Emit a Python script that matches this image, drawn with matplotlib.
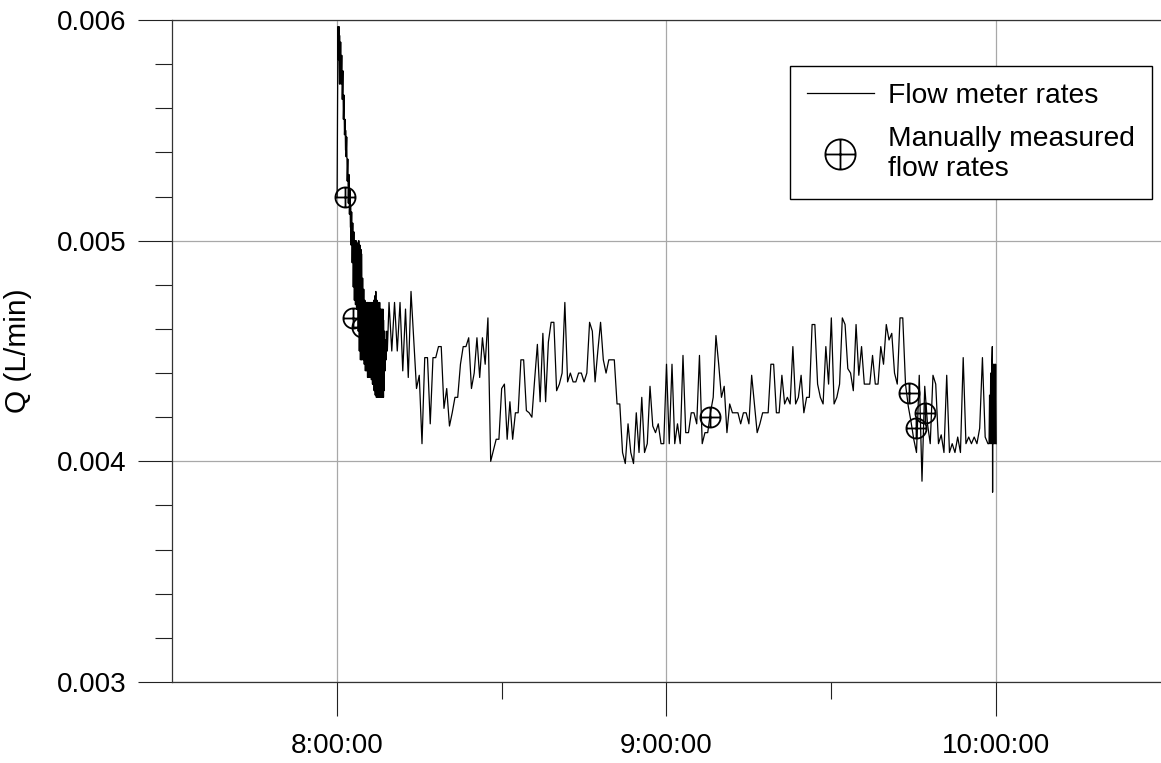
import numpy as np
import matplotlib
matplotlib.use("Agg")
import matplotlib.pyplot as plt
from matplotlib.path import Path
from matplotlib.ticker import FixedLocator, MultipleLocator, FormatStrFormatter, FuncFormatter

plt.rcParams['font.family'] = ['Liberation Sans', 'DejaVu Sans']

# flow meter, first point (minutes after 8:00, L/min x 1e-3)
start_t = 0.05
start_q = 5.20

# fast sampled start: upper and lower values of the oscillation
dense_t = [0.2, 0.4, 0.5, 0.7, 0.9, 1.1, 1.3, 1.5, 1.6, 1.8,
           2.0, 2.2, 2.4, 2.5, 2.7, 2.9, 3.1, 3.3, 3.5, 3.6,
           3.8, 4.0, 4.2, 4.4, 4.5, 4.7, 4.9, 5.1, 5.3, 5.5,
           5.6, 5.8, 6.0, 6.2, 6.4, 6.5, 6.7, 6.9, 7.1, 7.3,
           7.5, 7.6, 7.8, 8.0, 8.2, 8.4, 8.5, 8.7, 8.9, 9.1]
dense_hi = [5.97, 5.97, 5.93, 5.90, 5.84, 5.77, 5.66, 5.55, 5.50, 5.47,
            5.37, 5.30, 5.23, 5.16, 5.13, 5.08, 5.04, 5.00, 5.00, 4.99,
            4.99, 5.00, 4.98, 4.96, 4.94, 4.83, 4.78, 4.73, 4.72, 4.72,
            4.72, 4.72, 4.72, 4.72, 4.72, 4.72, 4.73, 4.75, 4.77, 4.73,
            4.72, 4.72, 4.72, 4.69, 4.69, 4.69, 4.64, 4.59, 4.55, 4.59]
dense_lo = [5.82, 5.71, 5.71, 5.71, 5.64, 5.55, 5.48, 5.41, 5.38, 5.27,
            5.17, 5.12, 5.06, 4.98, 4.90, 4.79, 4.73, 4.71, 4.69, 4.69,
            4.59, 4.50, 4.46, 4.46, 4.46, 4.46, 4.44, 4.41, 4.41, 4.38,
            4.38, 4.38, 4.38, 4.37, 4.35, 4.35, 4.32, 4.30, 4.29, 4.29,
            4.29, 4.29, 4.29, 4.29, 4.29, 4.29, 4.32, 4.41, 4.46, 4.50]

# 30 s readings from 8:09:30 on
meter_start = 9.5
meter_step = 0.5
meter_q = [4.72, 4.50, 4.72, 4.50, 4.72, 4.41, 4.69, 4.38, 4.77, 4.55,
           4.33, 4.39, 4.08, 4.47, 4.47, 4.17, 4.47, 4.47, 4.52, 4.52,
           4.24, 4.33, 4.16, 4.22, 4.29, 4.29, 4.44, 4.52, 4.52, 4.56,
           4.33, 4.40, 4.56, 4.38, 4.56, 4.44, 4.65, 4.00, 4.05, 4.10,
           4.10, 4.33, 4.35, 4.10, 4.27, 4.10, 4.22, 4.22, 4.46, 4.46,
           4.23, 4.22, 4.20, 4.37, 4.53, 4.27, 4.58, 4.27, 4.54, 4.63,
           4.63, 4.32, 4.35, 4.40, 4.72, 4.36, 4.40, 4.36, 4.36, 4.40,
           4.40, 4.36, 4.40, 4.63, 4.59, 4.36, 4.50, 4.63, 4.46, 4.40,
           4.46, 4.46, 4.46, 4.26, 4.26, 4.04, 3.99, 4.17, 4.04, 3.99,
           4.22, 4.04, 4.29, 4.04, 4.08, 4.34, 4.16, 4.13, 4.17, 4.08,
           4.08, 4.44, 4.08, 4.44, 4.08, 4.17, 4.08, 4.48, 4.13, 4.13,
           4.22, 4.22, 4.17, 4.48, 4.08, 4.13, 4.13, 4.22, 4.29, 4.57,
           4.44, 4.29, 4.34, 4.13, 4.26, 4.22, 4.22, 4.22, 4.17, 4.22,
           4.22, 4.17, 4.39, 4.26, 4.13, 4.17, 4.22, 4.22, 4.22, 4.44,
           4.44, 4.22, 4.22, 4.39, 4.26, 4.29, 4.26, 4.52, 4.26, 4.29,
           4.39, 4.22, 4.29, 4.29, 4.62, 4.62, 4.35, 4.29, 4.26, 4.52,
           4.35, 4.65, 4.26, 4.29, 4.35, 4.65, 4.62, 4.42, 4.40, 4.32,
           4.62, 4.39, 4.52, 4.35, 4.35, 4.35, 4.48, 4.35, 4.35, 4.52,
           4.44, 4.62, 4.55, 4.58, 4.40, 4.35, 4.65, 4.65, 4.35, 4.25,
           4.18, 4.10, 4.04, 4.39, 3.91, 4.34, 4.17, 4.08, 4.39, 4.35,
           4.08, 4.12, 4.04, 4.39, 4.04, 4.08, 4.04, 4.11, 4.04, 4.47,
           4.08, 4.11, 4.08, 4.11, 4.08, 4.15, 4.47, 4.11, 4.08]

# fast sampled end
tail_t = [118.7, 118.8, 118.9, 119.0, 119.1, 119.2, 119.3, 119.35,
          119.4, 119.5, 119.55, 119.65, 119.75, 119.8, 119.9, 120.0]
tail_q = [4.08, 4.30, 4.08, 4.40, 4.08, 4.44, 4.52, 3.86,
          4.44, 4.08, 4.44, 4.08, 4.44, 4.08, 4.44, 4.08]

# manual measurements
manual_t = [1.45, 2.9, 4.5, 68.0, 104.2, 105.5, 107.1]
manual_q = [5.20, 4.65, 4.61, 4.20, 4.31, 4.15, 4.22]

t = [start_t]
q = [start_q]
for ti, hi, lo in zip(dense_t, dense_hi, dense_lo):
    t += [ti, ti + 0.09]
    q += [hi, lo]
t += list(meter_start + meter_step * np.arange(len(meter_q)))
q += meter_q
t += tail_t
q += tail_q

hours = 8 + np.array(t) / 60.0
flow = np.array(q) * 1e-3
man_hours = 8 + np.array(manual_t) / 60.0
man_flow = np.array(manual_q) * 1e-3

# circle with a cross
circ = Path.unit_circle()
hbar = Path([(-1, 0), (1, 0)], [Path.MOVETO, Path.LINETO])
vbar = Path([(0, -1), (0, 1)], [Path.MOVETO, Path.LINETO])
oplus = Path.make_compound_path(circ, hbar, vbar)

fig = plt.figure(figsize=(11.61, 7.63), dpi=100)
ax = fig.add_axes([172 / 1161, 1 - 682 / 763, 989 / 1161, 662 / 763])

ax.plot(hours, flow, color='black', lw=0.9, label='Flow meter rates', zorder=3)
ax.plot(man_hours, man_flow, linestyle='none', marker=oplus, markersize=14.5,
        markerfacecolor='none', markeredgecolor='black', markeredgewidth=1.3,
        label='Manually measured\nflow rates', zorder=4)

ax.set_xlim(7.5, 10.5)
ax.set_ylim(0.003, 0.006)

ax.xaxis.set_major_locator(FixedLocator([8, 9, 10]))
ax.xaxis.set_minor_locator(FixedLocator([8.5, 9.5]))
ax.xaxis.set_major_formatter(FuncFormatter(lambda v, p: '%d:%02d:00' % (int(v), int(round((v % 1) * 60)))))
ax.yaxis.set_major_locator(MultipleLocator(0.001))
ax.yaxis.set_minor_locator(MultipleLocator(0.0002))
ax.yaxis.set_major_formatter(FormatStrFormatter('%.3f'))

ax.tick_params(which='major', direction='out', length=24.5, width=0.8, color='#222222',
               labelsize=20, pad=12)
ax.tick_params(which='minor', direction='out', length=12, width=0.8, color='#222222')
ax.tick_params(axis='y', which='major', pad=8)

ax.grid(True, which='major', color='#a8a8a8', lw=0.9)
ax.set_axisbelow(True)

ax.spines['right'].set_visible(False)
for s in ['left', 'bottom', 'top']:
    ax.spines[s].set_color('#333333')
    ax.spines[s].set_linewidth(0.9)

ax.set_ylabel('Q (L/min)', fontsize=21.5)
ax.yaxis.set_label_coords(-0.142, 0.5)

leg = ax.legend(loc='upper right', bbox_to_anchor=(0.991, 0.9305), borderaxespad=0,
                fontsize=20.3, fancybox=False, framealpha=1, edgecolor='black',
                handlelength=2.4, handletextpad=0.5, borderpad=0.6,
                markerscale=1.5, labelspacing=0.6)
leg.get_frame().set_linewidth(1.0)

fig.savefig('out.png', dpi=100)
